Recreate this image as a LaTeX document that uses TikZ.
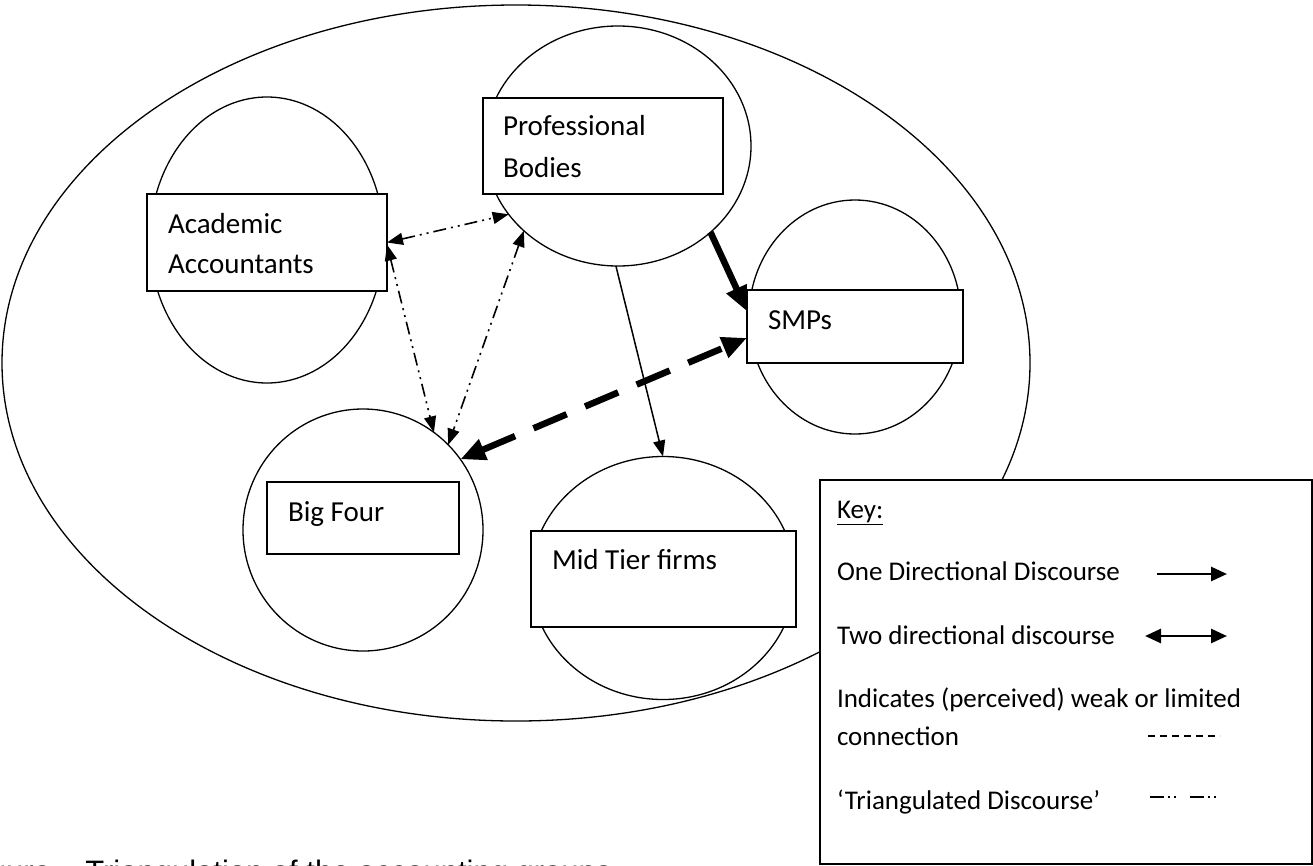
\documentclass[tikz,border=0pt]{standalone}
\usepackage{fontspec}
\setmainfont{Carlito}
\newfontfamily\capfont{Liberation Sans}
\usetikzlibrary{shapes.geometric,arrows.meta}
\tikzset{
  tiphead/.tip={Triangle[length=16pt,width=12pt]},
  bighead/.tip={Triangle[length=25pt,width=21pt]},
  keyhead/.tip={Triangle[length=16pt,width=14pt]}
}
\begin{document}
\begin{tikzpicture}[x=1pt,y=-1pt,
  every node/.style={inner sep=0pt, outer sep=0pt},
  group/.style={ellipse, draw, line width=1.3pt, fill=white},
  namebox/.style={draw, line width=1.5pt, fill=white, anchor=north west},
  lbl/.style={anchor=base west, font=\fontsize{29}{34}\selectfont},
  keylbl/.style={anchor=base west, font=\fontsize{27}{32}\selectfont},
  thin/.style={line width=1.5pt},
  tri/.style={line width=1.6pt, dash pattern=on 13pt off 5pt on 2pt off 5pt on 2pt off 5pt}
]
\useasboundingbox (0,0) rectangle (1313,865);

% the whole field of accounting groups
\node[ellipse, draw, line width=1.3pt, minimum width=1028pt, minimum height=716pt] (field) at (516,363) {};

% groups
\node[group, minimum width=234pt, minimum height=286pt] (ac)  at (267,240) {};
\node[group, minimum width=266pt, minimum height=240pt] (pb)  at (618,146) {};
\node[group, minimum width=212pt, minimum height=234pt] (smp) at (855,317) {};
\node[group, minimum width=240pt, minimum height=242pt] (bf)  at (363,530) {};
\node[group, minimum width=264pt, minimum height=243pt] (mid) at (663,578) {};

% name boxes
\node[namebox, minimum width=240pt, minimum height=97pt] (acbox)  at (147,194) {};
\node[namebox, minimum width=240pt, minimum height=96pt] (pbbox)  at (483,98) {};
\node[namebox, minimum width=216pt, minimum height=73pt] (smpbox) at (747,290) {};
\node[namebox, minimum width=192pt, minimum height=72pt] (bfbox)  at (267,482) {};
\node[namebox, minimum width=265pt, minimum height=96pt] (midbox) at (531,531) {};

\node[lbl] (acname1) at (168,233) {Academic};
\node[lbl] (acname2) at (168,273) {Accountants};
\node[lbl] (pbname1) at (503,135) {Professional};
\node[lbl] (pbname2) at (503,177) {Bodies};
\node[lbl] (smpname) at (768,329) {SMPs};
\node[lbl] (bfname)  at (288,521) {Big Four};
\node[lbl] (midname) at (552,569) {Mid Tier firms};

% discourse between the groups
\draw[thin, -{tiphead}] (pb.-91.4) -- (mid.90);
\draw[line width=6.5pt, -{bighead}] (pb.-43) -- (smpbox.172.4);
\draw[line width=6.5pt, dash pattern=on 36pt off 20pt, {bighead}-{bighead}] (bf.36.3) -- (smpbox.186);
\draw[tri, {tiphead}-{tiphead}] (acbox.0) -- (pb.212.1);
\draw[tri, {tiphead}-{tiphead}] (acbox.-1.2) -- (bf.54.5);
\draw[tri, {tiphead}-{tiphead}] (pb.222.5) -- (bf.45);

% key
\node[draw, line width=1.5pt, fill=white, anchor=north west, minimum width=492pt, minimum height=384pt] (key) at (820,480) {};
\node[keylbl] (keytitle) at (837,518) {\underline{Key:}};
\node[keylbl] (k1) at (837,580) {One Directional Discourse};
\node[keylbl] (k2) at (837,644) {Two directional discourse};
\node[keylbl] (k3a) at (837,707) {Indicates (perceived) weak or limited};
\node[keylbl] (k3b) at (837,745) {connection};
\node[keylbl] (k4) at (837,809) {‘Triangulated Discourse’};

\coordinate (k1s) at (1157,574); \coordinate (k1e) at (1227,574);
\coordinate (k2s) at (1145,636); \coordinate (k2e) at (1227,636);
\coordinate (k3s) at (1148,736); \coordinate (k3e) at (1220,736);
\coordinate (k4s) at (1150,797); \coordinate (k4e) at (1217,797);
\draw[line width=2.7pt, -{keyhead}] (k1s) -- (k1e);
\draw[line width=2.7pt, {keyhead}-{keyhead}] (k2s) -- (k2e);
\draw[line width=1.3pt, dash pattern=on 7pt off 5pt] (k3s) -- (k3e);
\draw[line width=1.5pt, dash pattern=on 14pt off 4pt on 2pt off 4pt on 2pt off 14pt] (k4s) -- (k4e);

% caption, running off the lower edge
\node[anchor=base west, font=\capfont\fontsize{31}{36}\selectfont] (caption) at (-37,882) {Figure – Triangulation of the accounting groups};
\end{tikzpicture}
\end{document}
